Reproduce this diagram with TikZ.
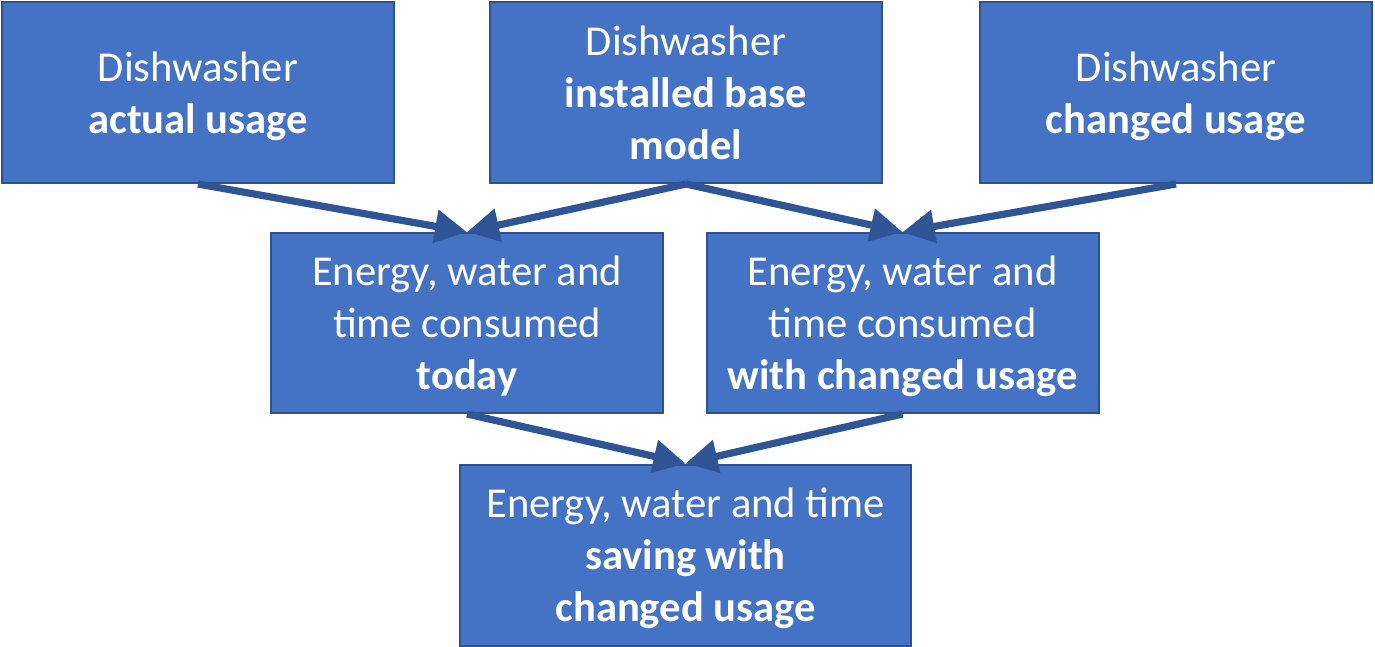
\documentclass[tikz,border=0pt]{standalone}
\usepackage{fontspec}
\setmainfont{Carlito}
\usetikzlibrary{positioning, arrows.meta}
\definecolor{boxfill}{HTML}{4472C4}
\definecolor{boxline}{HTML}{2F528F}
\definecolor{arrowcol}{HTML}{2F5597}

\begin{document}
\begin{tikzpicture}[
  x=0.5pt, y=-0.5pt,
  font=\fontsize{21.3}{26}\selectfont,
  blk/.style={draw=boxline, fill=boxfill, text=white, line width=1pt,
              minimum width=196pt, minimum height=90.5pt, align=center,
              inner sep=0pt, text depth=0pt},
  flow/.style={-{Triangle[length=16pt,width=16pt]}, draw=arrowcol,
               line width=3.6pt},
]
\useasboundingbox (0,0) rectangle (1375,647);
\node[blk] (actual) at (198,92.5) {Dishwasher\\\textbf{actual usage}};
\node[blk] (base) at (686,92.5) {Dishwasher\\\textbf{installed base}\\\textbf{model}};
\node[blk] (changed) at (1176,92.5) {Dishwasher\\\textbf{changed usage}};
\node[blk, minimum height=90pt] (today) at (467,323)
  {Energy, water and\\time consumed\\\textbf{today}};
\node[blk, minimum height=90pt] (withchg) at (902.5,323)
  {Energy, water and\\time consumed\\\textbf{with changed usage}};
\node[blk, minimum width=225.5pt] (saving) at (685.5,555)
  {Energy, water and time\\\textbf{saving with}\\\textbf{changed usage}};
\draw[flow] (actual.south) -- (today.north);
\draw[flow] (base.south) -- (today.north);
\draw[flow] (base.south) -- (withchg.north);
\draw[flow] (changed.south) -- (withchg.north);
\draw[flow] (today.south) -- (saving.north);
\draw[flow] (withchg.south) -- (saving.north);
\end{tikzpicture}
\end{document}
